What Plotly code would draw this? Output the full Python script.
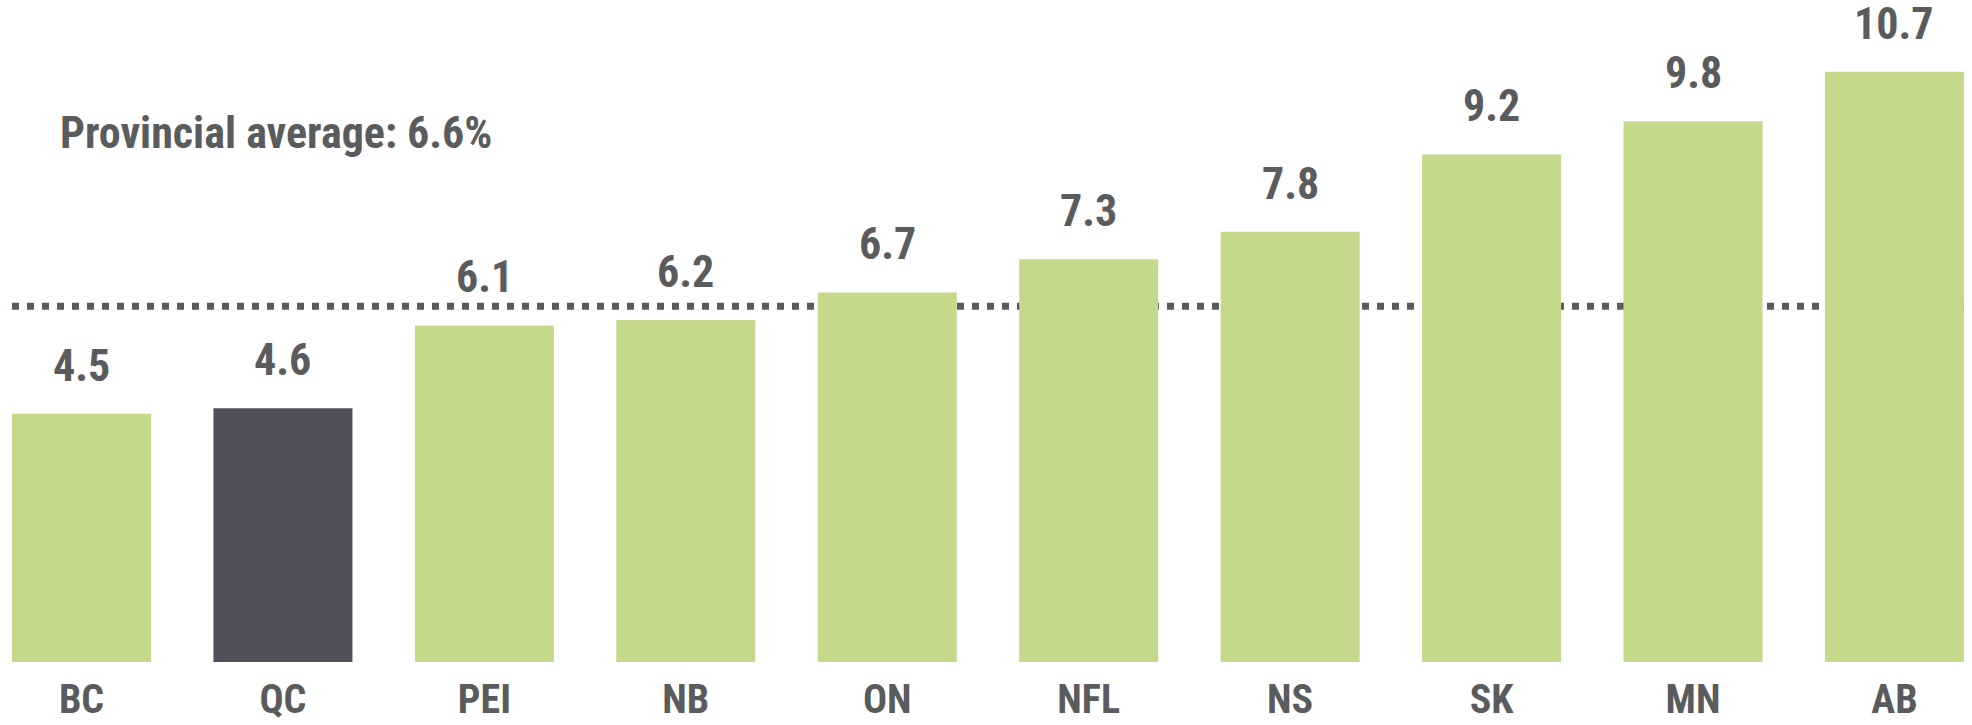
import plotly.graph_objects as go

# ---- data ----
provinces = ["BC", "QC", "PEI", "NB", "ON", "NFL", "NS", "SK", "MN", "AB"]
rates = [4.5, 4.6, 6.1, 6.2, 6.7, 7.3, 7.8, 9.2, 9.8, 10.7]
highlight = ["QC"]
average_label = "Provincial average: 6.6%"
average_line_level = 6.45  # where the dotted line is drawn in the picture

# ---- style ----
GREEN = "#C4D98A"
DARK = "#514F59"
TEXT = "#5A5B5D"
FONT = "Roboto Condensed, Roboto, sans-serif"
BARGAP = 0.31
X_RANGE = [-0.4046, 9.385]
Y_RANGE = [0, 12.0]

colors = [DARK if p in highlight else GREEN for p in provinces]

fig = go.Figure()
fig.add_trace(go.Bar(
    x=provinces, y=rates, marker=dict(color=colors, line=dict(width=0)),
    hoverinfo="skip", showlegend=False,
))

# value labels
for p, v in zip(provinces, rates):
    fig.add_annotation(
        x=p, y=v, xref="x", yref="y", text=f"<b>{v:.1f}</b>",
        showarrow=False, yanchor="bottom", yshift=20,
        font=dict(family=FONT, size=44, color=TEXT),
    )

# average dotted line (behind bars), spanning first bar's left edge to last bar's right edge
n = len(provinces)
fig.add_shape(
    type="line", layer="below", xref="x", yref="y",
    x0=-0.5 + BARGAP / 2, x1=(n - 1) + 0.5 - BARGAP / 2,
    y0=average_line_level, y1=average_line_level,
    line=dict(color=TEXT, width=7, dash="7px,8px"),
)

fig.add_annotation(
    xref="paper", yref="paper", x=58 / 1972, y=1 - 133 / 662,
    xanchor="left", yanchor="middle", align="left", showarrow=False,
    text=f"<b>{average_label}</b>",
    font=dict(family=FONT, size=44, color=TEXT),
)

fig.update_layout(
    width=1972, height=725,
    margin=dict(l=0, r=0, t=0, b=63, pad=0),
    paper_bgcolor="white", plot_bgcolor="white",
    bargap=BARGAP,
    font=dict(family=FONT, color=TEXT),
    xaxis=dict(
        range=X_RANGE, showgrid=False, zeroline=False, showline=False,
        ticks="", tickfont=dict(family=FONT, size=40, color=TEXT, weight="bold"),
        ticklabelstandoff=10, fixedrange=True, automargin=False,
    ),
    yaxis=dict(
        range=Y_RANGE, visible=False, showgrid=False, zeroline=False,
        fixedrange=True,
    ),
)

post = (
    "document.body.style.margin='0';"
    "document.head.insertAdjacentHTML('beforeend',"
    "'<style>.js-plotly-plot text{font-stretch:condensed !important;}</style>');"
    "document.querySelectorAll('text').forEach(function(t){t.style.fontStretch='condensed';});"
)
fig.write_html("out.html", post_script=post, config={"displayModeBar": False})
